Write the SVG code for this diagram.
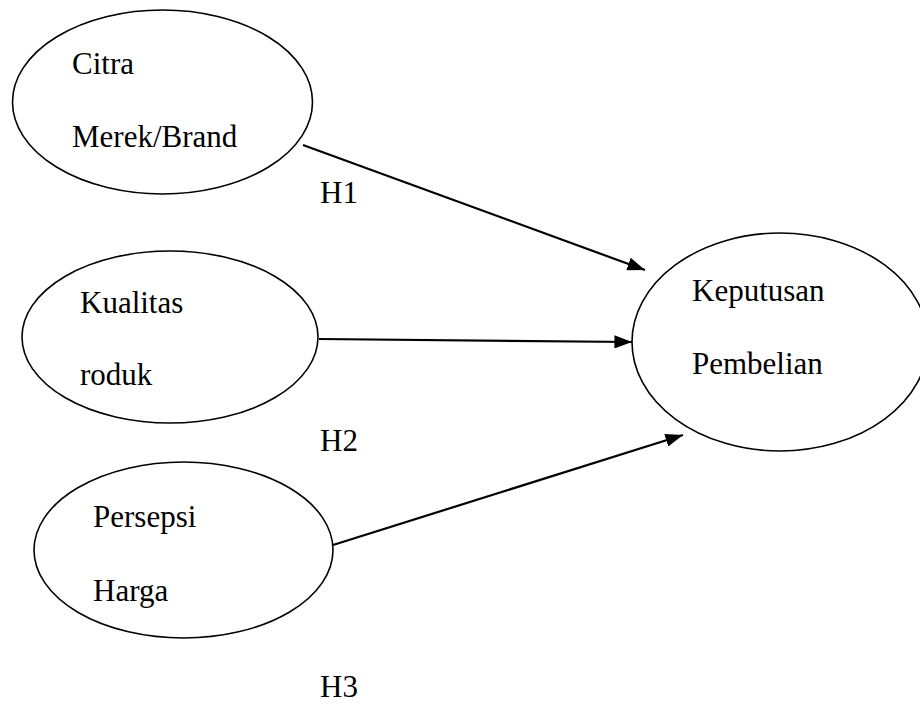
<svg xmlns="http://www.w3.org/2000/svg" width="920" height="704" viewBox="0 0 920 704">
<defs>
<style>
.n{fill:#fff;stroke:#000;stroke-width:1.6}
.t{font-family:"Liberation Serif","Times New Roman",serif;font-size:31px;fill:#000}
.c{stroke:#000;stroke-width:2.2;fill:none}
</style>
<marker id="ah" viewBox="0 0 8 6" refX="8" refY="3" markerWidth="8" markerHeight="6" markerUnits="strokeWidth" orient="auto">
<path d="M0,0 L8,3 L0,6 z" fill="#000"/>
</marker>
</defs>
<rect width="920" height="704" fill="#fff"/>
<g id="n-citra">
<ellipse class="n" cx="162.5" cy="102" rx="150" ry="92"/>
<text class="t" x="72" y="74">Citra</text>
<text class="t" x="72" y="147">Merek/Brand</text>
</g>
<g id="n-kualitas">
<ellipse class="n" cx="170" cy="337" rx="148" ry="86"/>
<text class="t" x="80" y="313">Kualitas</text>
<text class="t" x="80" y="385">roduk</text>
</g>
<g id="n-persepsi">
<ellipse class="n" cx="183.5" cy="550" rx="149.5" ry="88"/>
<text class="t" x="93" y="527">Persepsi</text>
<text class="t" x="93" y="601">Harga</text>
</g>
<g id="n-keputusan">
<ellipse class="n" cx="780" cy="342" rx="148" ry="109"/>
<text class="t" x="692" y="301">Keputusan</text>
<text class="t" x="692" y="374">Pembelian</text>
</g>
<g id="connectors">
<line class="c" x1="303" y1="145" x2="645" y2="270" marker-end="url(#ah)"/>
<line class="c" x1="319" y1="339" x2="632" y2="342" marker-end="url(#ah)"/>
<line class="c" x1="333" y1="545" x2="683" y2="435" marker-end="url(#ah)"/>
</g>
<g id="labels">
<text class="t" x="320" y="203">H1</text>
<text class="t" x="320" y="451">H2</text>
<text class="t" x="320" y="697">H3</text>
</g>
</svg>
